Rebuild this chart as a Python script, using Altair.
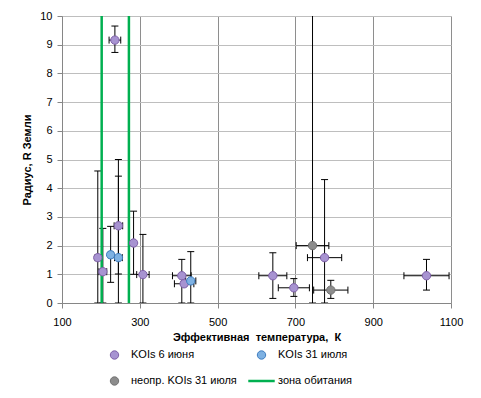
import altair as alt
import pandas as pd

SERIES = ["KOIs 6 июня", "KOIs 31 июля", "неопр. KOIs 31 июля", "зона обитания"]
P, B, G = SERIES[0], SERIES[1], SERIES[2]

series = [P] * 12 + [B] * 3 + [G] * 2
temp = [236, 192, 205, 245, 284, 308, 408, 414, 642, 696, 775, 1037, 225, 245, 431, 744, 791]
radius = [9.16, 1.58, 1.09, 2.69, 2.09, 0.99, 0.95, 0.67, 0.95, 0.53, 1.58, 0.95,
          1.68, 1.58, 0.77, 2.00, 0.45]
temp_err = [15, 7, 10, 11, 4, 16, 24, 25, 36, 40, 44, 58, 6, 10, 13, 42, 44]
r_lo = [8.73, 0, 0, 0, 1.00, 0, 0, 0.60, 0.16, 0.23, 0, 0.45, 0.72, 1.01, 0, 0, 0.16]
r_hi = [9.65, 4.60, 2.60, 5.00, 3.20, 2.39, 1.52, 0.75, 1.75, 0.85, 4.30, 1.52,
        2.67, 4.42, 1.79, 11.0, 0.79]

zone_temp = [202, 272]

x_ticks = [100, 300, 500, 700, 900, 1100]
y_ticks = list(range(0, 11))

XT = "Эффективная\u00a0 температура,\u00a0 К"
YT = "Радиус, R Земли"

df = pd.DataFrame({
    "series": series, "T": temp, "R": radius,
    "Tlo": [t - e for t, e in zip(temp, temp_err)],
    "Thi": [t + e for t, e in zip(temp, temp_err)],
    "Rlo": r_lo, "Rhi": r_hi,
})
vcaps = pd.concat([
    pd.DataFrame({"T": df["T"], "Rc": df["Rlo"]}),
    pd.DataFrame({"T": df["T"], "Rc": df["Rhi"]}),
])
hcaps = pd.concat([
    pd.DataFrame({"Tc": df["Tlo"], "R": df["R"]}),
    pd.DataFrame({"Tc": df["Thi"], "R": df["R"]}),
])
zone = pd.DataFrame({"series": [SERIES[3]] * len(zone_temp), "T": zone_temp})

FONT = "Liberation Sans"
x_scale = alt.Scale(domain=[100, 1100], nice=False, zero=False)
y_scale = alt.Scale(domain=[0, 10], nice=False)

xax = alt.Axis(values=x_ticks, format="d", grid=True, gridColor="#8e8e8e", domainColor="#868686",
               tickColor="#868686", tickSize=5, labelPadding=8, labelFontSize=11,
               labelFont=FONT, labelColor="black", titleFont=FONT, titleFontSize=11,
               titleFontWeight="bold", titleColor="black", titlePadding=4, labelFlush=False)
yax = alt.Axis(values=y_ticks, grid=True, gridColor="#bebebe", domainColor="#868686",
               tickColor="#868686", tickSize=5, labelPadding=5, labelFontSize=11,
               labelFont=FONT, labelColor="black", titleFont=FONT, titleFontSize=11,
               titleFontWeight="bold", titleColor="black", titlePadding=7)

def X(f):
    return alt.X(f, scale=x_scale, axis=xax, title=XT)

def Y(f):
    return alt.Y(f, scale=y_scale, axis=yax, title=YT)

fill_scale = alt.Scale(domain=SERIES, range=["#a793d1", "#7eb1e2", "#8c8c8c", "#00b050"])
stroke_scale = alt.Scale(domain=SERIES, range=["#7f60a8", "#3f7dc0", "#737373", "#00b050"])
shape_scale = alt.Scale(domain=SERIES, range=["circle", "circle", "circle", "stroke"])
size_scale = alt.Scale(type="ordinal", domain=SERIES, range=[70, 70, 70, 700])
sw_scale = alt.Scale(type="ordinal", domain=SERIES, range=[1, 1, 1, 2.5])

leg = alt.Legend(title=None, orient="none", legendX=38, legendY=326, columns=2,
                 direction="horizontal", clipHeight=26,
                 labelFont=FONT, labelFontSize=11, labelColor="black", labelOffset=2,
                 columnPadding=10, rowPadding=-2, padding=0)

vbar = alt.Chart(df).mark_rule(color="black", strokeWidth=1, clip=True).encode(
    x=X("T:Q"), y=Y("Rlo:Q"), y2="Rhi:Q")
hbar = alt.Chart(df).mark_rule(color="black", strokeWidth=1, clip=True).encode(
    x=X("Tlo:Q"), x2="Thi:Q", y=Y("R:Q"))
vcap = alt.Chart(vcaps).mark_rule(color="black", strokeWidth=1, clip=True,
                                  xOffset=-3.5, x2Offset=3.5).encode(
    x=X("T:Q"), x2="T:Q", y=Y("Rc:Q"))
hcap = alt.Chart(hcaps).mark_rule(color="black", strokeWidth=1, clip=True,
                                  yOffset=-3.5, y2Offset=3.5).encode(
    x=X("Tc:Q"), y=Y("R:Q"), y2="R:Q")
zlines = alt.Chart(zone).mark_rule().encode(
    x=X("T:Q"),
    stroke=alt.Stroke("series:N", scale=stroke_scale, legend=leg),
    strokeWidth=alt.StrokeWidth("series:N", scale=sw_scale, legend=leg),
)
pts = alt.Chart(df).mark_point(filled=True, opacity=1).encode(
    x=X("T:Q"), y=Y("R:Q"),
    fill=alt.Fill("series:N", scale=fill_scale, legend=leg),
    stroke=alt.Stroke("series:N", scale=stroke_scale, legend=leg),
    shape=alt.Shape("series:N", scale=shape_scale, legend=leg),
    size=alt.Size("series:N", scale=size_scale, legend=leg),
    strokeWidth=alt.StrokeWidth("series:N", scale=sw_scale, legend=leg),
)

chart = alt.layer(vbar, hbar, vcap, hcap, zlines, pts).properties(
    width=389, height=287,
    autosize=alt.AutoSizeParams(type="none"),
    padding={"left": 54, "top": 8, "right": 22, "bottom": 87},
    background="white",
).configure_view(stroke="transparent").configure(font=FONT)

chart.save("out.html", embed_options={"renderer": "svg", "actions": False})
